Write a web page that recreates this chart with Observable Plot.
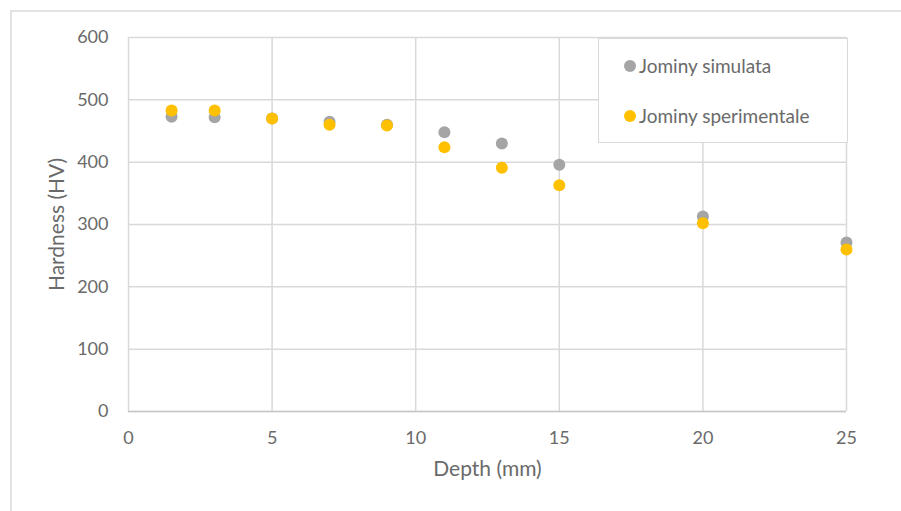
<!DOCTYPE html>
<html>
<head>
<meta charset="utf-8">
<script src="https://cdn.jsdelivr.net/npm/d3@7"></script>
<script src="https://cdn.jsdelivr.net/npm/@observablehq/plot@0.6"></script>
<style>
  html, body { margin: 0; padding: 0; background: #fff; }
  #wrap { position: relative; width: 901px; height: 511px; overflow: hidden; font-family: Lato, "Open Sans", sans-serif; }
  #frame { position: absolute; left: 10px; top: 10px; width: 900px; height: 520px; border-top: 2px solid #e3e3e3; border-left: 2px solid #e3e3e3; box-sizing: border-box; pointer-events: none; }
  #legend { position: absolute; left: 598px; top: 38px; width: 250px; height: 105px; border: 1.5px solid #d9d9d9; background: #fff; box-sizing: border-box; font-size: 19px; color: #6a6a6a; }
  .item { position: absolute; left: 25px; display: flex; align-items: center; }
  .dot { width: 12px; height: 12px; border-radius: 50%; margin-right: 3px; }
</style>
</head>
<body>
<div id="wrap">
  <div id="chart"></div>
  <div id="frame"></div>
  <div id="legend"></div>
</div>
<script>
const depth = [1.5, 3, 5, 7, 9, 11, 13, 15, 20, 25];
const simulata = [473, 472, 470, 465, 460, 448, 430, 396, 313, 271];
const sperimentale = [483, 483, 470, 460, 459, 424, 391, 363, 302, 260];
const seriesNames = ["Jominy simulata", "Jominy sperimentale"];
const seriesColors = ["#a5a5a5", "#ffc000"];
const xTicks = [0, 5, 10, 15, 20, 25];
const yTicks = [0, 100, 200, 300, 400, 500, 600];

const data = [];
depth.forEach((d, i) => data.push({depth: d, hardness: simulata[i], series: seriesNames[0]}));
depth.forEach((d, i) => data.push({depth: d, hardness: sperimentale[i], series: seriesNames[1]}));

const textColor = "#6a6a6a";
const plot = Plot.plot({
  width: 901,
  height: 511,
  marginLeft: 128,
  marginRight: 55,
  marginTop: 37,
  marginBottom: 100,
  style: {fontFamily: "Lato, 'Open Sans', sans-serif", fontSize: "18px", color: textColor, background: "#fff"},
  x: {domain: [0, 25], ticks: xTicks, label: null},
  y: {domain: [0, 600], ticks: yTicks, label: null},
  color: {domain: seriesNames, range: seriesColors},
  marks: [
    Plot.gridX(xTicks, {stroke: "#d9d9d9", strokeOpacity: 1, strokeWidth: 1.5}),
    Plot.gridY(yTicks, {stroke: "#d9d9d9", strokeOpacity: 1, strokeWidth: 1.5}),
    Plot.ruleY([0], {stroke: "#c8c8c8", strokeWidth: 1.5}),
    Plot.axisX(xTicks, {tickSize: 0, tickPadding: 20, fill: textColor, fontSize: 18}),
    Plot.axisY(yTicks, {tickSize: 0, tickPadding: 20, fill: textColor, fontSize: 18}),
    Plot.text(["Depth (mm)"], {frameAnchor: "bottom", dy: 64, fill: textColor, fontSize: 21}),
    Plot.text(["Hardness (HV)"], {frameAnchor: "left", textAnchor: "middle", dx: -71, rotate: -90, fill: textColor, fontSize: 21}),
    Plot.dot(data, {x: "depth", y: "hardness", fill: "series", r: 6})
  ]
});
document.getElementById("chart").appendChild(plot);

const legend = document.getElementById("legend");
seriesNames.forEach((name, i) => {
  const item = document.createElement("div");
  item.className = "item";
  item.style.top = (i === 0 ? 15 : 65) + "px";
  const dot = document.createElement("div");
  dot.className = "dot";
  dot.style.background = seriesColors[i];
  const label = document.createElement("span");
  label.textContent = name;
  item.appendChild(dot);
  item.appendChild(label);
  legend.appendChild(item);
});
</script>
</body>
</html>
